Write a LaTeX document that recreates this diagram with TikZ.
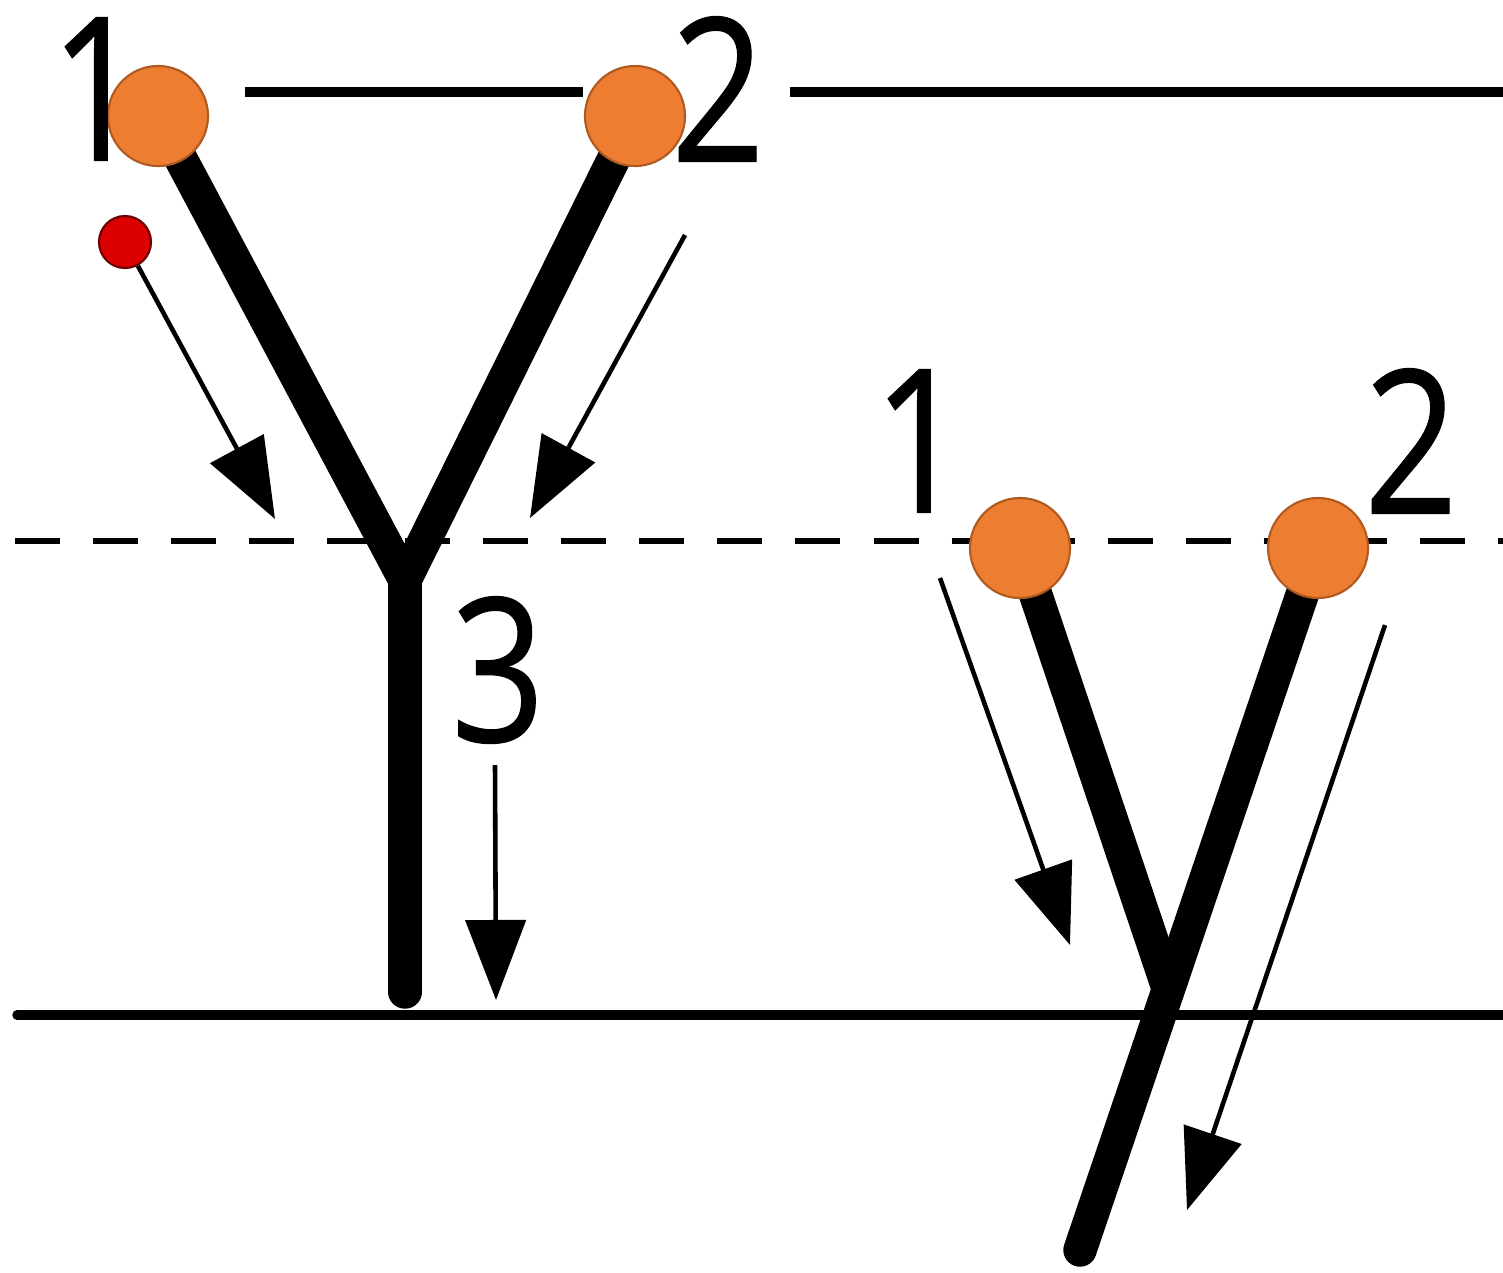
\documentclass[tikz,border=0pt]{standalone}
\usepackage{fontspec}
\setmainfont{Open Sans}
\usetikzlibrary{arrows.meta}
\definecolor{dotorange}{HTML}{ED7D31}
\definecolor{dotedge}{HTML}{AE5A21}
\definecolor{dotred}{HTML}{DD0000}
\definecolor{rededge}{HTML}{6A0000}
\begin{document}
\begin{tikzpicture}[x=0.01cm,y=-0.01cm,
  orangedot/.style={circle,fill=dotorange,draw=dotedge,line width=0.6pt,minimum size=1cm,inner sep=0pt},
  reddot/.style={circle,fill=dotred,draw=rededge,line width=0.6pt,minimum size=0.52cm,inner sep=0pt},
  digit/.style={inner sep=0pt,font=\fontsize{57}{57}\selectfont\addfontfeature{FakeBold=0.6},xscale=0.82},
  stroke/.style={line width=9.5pt,line join=round},
  guide/.style={line width=2.9pt},
  dashguide/.style={line width=1.8pt,dash pattern=on 0.45cm off 0.33cm},
  baseguide/.style={line width=2.7pt,line cap=round},
  hint/.style={line width=1.3pt,-{Triangle[length=0.8cm,width=0.6cm]}}]
\useasboundingbox (0,0) rectangle (1503,1272);
% guide lines
\coordinate (t1) at (245,92); \coordinate (t2) at (583,92);
\coordinate (t3) at (790,92); \coordinate (t4) at (1503,92);
\coordinate (d1) at (15,541); \coordinate (d2) at (1503,541);
\coordinate (b1) at (17,1015); \coordinate (b2) at (1503,1015);
\draw[guide] (t1) -- (t2);
\draw[guide] (t3) -- (t4);
\draw[dashguide] (d1) -- (d2);
\draw[baseguide] (b1) -- (b2);
% left Y
\coordinate (j1) at (405,580);
\coordinate (s1) at (405,992);
\coordinate (p1) at (158,116);
\coordinate (p2) at (635,116);
\draw[stroke] (p1) -- (j1) -- (p2);
\draw[stroke,line cap=round] (j1) -- (s1);
% right y
\coordinate (p3) at (1020,548);
\coordinate (p4) at (1318,548);
\coordinate (j2) at (1167,985);
\coordinate (s2) at (1080,1250);
\draw[stroke] (p3) -- (j2);
\draw[stroke,line cap=round] (p4) -- (s2);
% dots
\node[orangedot] (c1) at (p1) {};
\node[orangedot] (c2) at (p2) {};
\node[orangedot] (c3) at (p3) {};
\node[orangedot] (c4) at (p4) {};
\node[reddot] (rd) at (125,242) {};
% digits
\node[digit] (n1) at (97,89) {1};
\node[digit] (n2) at (718,89) {2};
\node[digit] (n3) at (498,670) {3};
\node[digit] (n4) at (920,441) {1};
\node[digit] (n5) at (1411,441) {2};
% arrows
\coordinate (a1e) at (275,519);
\coordinate (a2s) at (685,235); \coordinate (a2e) at (530,518);
\coordinate (a3s) at (495,765); \coordinate (a3e) at (496,1000);
\coordinate (a4s) at (940,578); \coordinate (a4e) at (1070,945);
\coordinate (a5s) at (1385,625); \coordinate (a5e) at (1187,1210);
\draw[hint] (rd) -- (a1e);
\draw[hint] (a2s) -- (a2e);
\draw[hint] (a3s) -- (a3e);
\draw[hint] (a4s) -- (a4e);
\draw[hint] (a5s) -- (a5e);
\end{tikzpicture}
\end{document}
